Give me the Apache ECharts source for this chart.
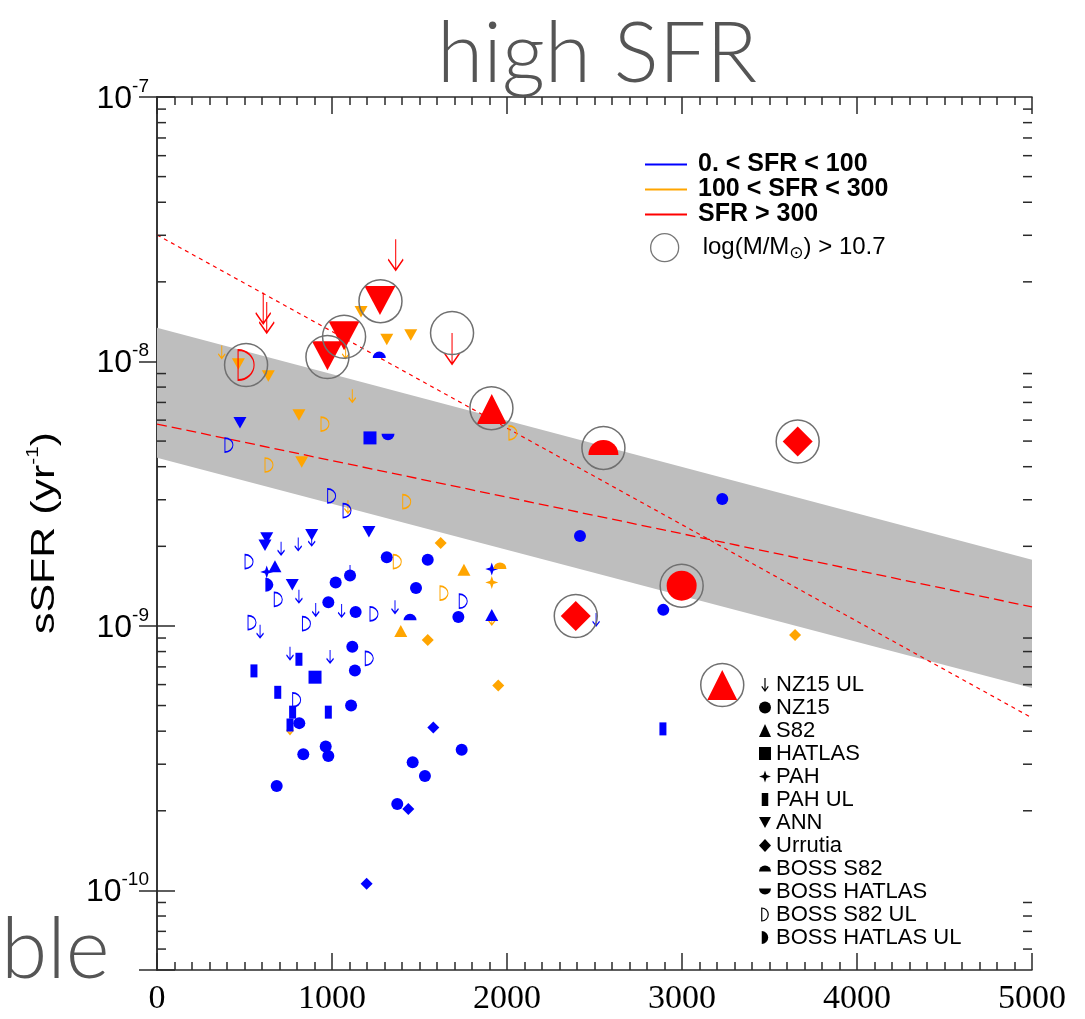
<!DOCTYPE html>
<html><head><meta charset="utf-8">
<script src="https://cdn.jsdelivr.net/npm/echarts@6/dist/echarts.min.js"></script>
<style>html,body{margin:0;padding:0;background:#fff}#c{width:1085px;height:1019px}</style>
</head><body><div id="c"></div><script>
// ---- data: [x, sSFR, class] ; class 0: SFR<100 (blue), 1: 100-300 (orange), 2: >300 (red)
const nz15UL = [[1364,2.90e-8,2],[607,1.82e-8,2],[627,1.68e-8,2],[1686,1.28e-8,2],
  [370,1.15e-8,1],[1078,1.15e-8,1],[1116,7.85e-9,1],[1091,2.99e-9,1],[1913,1.13e-9,1],[760,4.35e-10,1],
  [709,2.08e-9,0],[807,2.16e-9,0],[884,2.25e-9,0],[1103,1.70e-9,0],[811,1.37e-9,0],[907,1.22e-9,0],
  [1055,1.21e-9,0],[1360,1.25e-9,0],[589,1.01e-9,0],[2509,1.12e-9,0],[760,8.35e-10,0],[989,8.11e-10,0]];
const nz15 = [[2998,1.42e-9,2],
  [3230,3.02e-9,0],[2417,2.19e-9,0],[2893,1.15e-9,0],[1313,1.82e-9,0],[1547,1.78e-9,0],[1021,1.46e-9,0],
  [1103,1.55e-9,0],[1480,1.39e-9,0],[979,1.23e-9,0],[1135,1.13e-9,0],[1722,1.08e-9,0],[1116,8.35e-10,0],
  [1131,6.78e-10,0],[1109,5.00e-10,0],[813,4.29e-10,0],[964,3.50e-10,0],[979,3.22e-10,0],[836,3.27e-10,0],
  [1741,3.40e-10,0],[1461,3.05e-10,0],[1531,2.71e-10,0],[684,2.48e-10,0],[1373,2.12e-10,0]];
const s82 = [[1913,6.61e-9,2],[3230,5.98e-10,2],[1754,1.63e-9,1],[1393,9.57e-10,1],[674,1.68e-9,0],[1913,1.10e-9,0]];
const hatlas = [[1217,5.14e-9,0],[903,6.40e-10,0]];
const pah = [[627,1.60e-9,0],[1913,1.64e-9,0],[1913,1.46e-9,1]];
const pahUL = [[554,6.76e-10,0],[811,7.48e-10,0],[690,5.61e-10,0],[775,4.72e-10,0],[979,4.72e-10,0],[760,4.22e-10,0],[2891,4.08e-10,0]];
const ann = [[1274,1.70e-8,2],[1069,1.25e-8,2],[974,1.05e-8,2],
  [1166,1.54e-8,1],[1313,1.21e-8,1],[1450,1.26e-8,1],[465,9.78e-9,1],[636,8.82e-9,1],[811,6.28e-9,1],[827,4.17e-9,1],
  [474,5.86e-9,0],[627,2.15e-9,0],[617,2.02e-9,0],[884,2.21e-9,0],[1211,2.27e-9,0],[773,1.43e-9,0]];
const urrutia = [[2393,1.09e-9,2],[3661,4.98e-9,2],[1621,2.06e-9,1],[1547,8.85e-10,1],[1950,5.95e-10,1],[3646,9.25e-10,1],
  [1579,4.13e-10,0],[1436,2.03e-10,0],[1198,1.06e-10,0]];
const bossS82 = [[2551,4.73e-9,2],[1960,1.69e-9,1],[1270,1.06e-8,0],[1446,1.08e-9,0]];
const bossHatlas = [[1320,5.18e-9,0]];
const bossS82UL = [[509,9.70e-9,2],
  [960,5.80e-9,1],[640,4.06e-9,1],[2034,5.37e-9,1],[1427,2.95e-9,1],[1373,1.75e-9,1],[1640,1.33e-9,1],
  [411,4.83e-9,0],[998,3.10e-9,0],[1086,2.73e-9,0],[526,1.75e-9,0],[693,1.26e-9,0],[1750,1.24e-9,0],
  [1240,1.11e-9,0],[543,1.03e-9,0],[854,1.02e-9,0],[1213,7.54e-10,0],[798,5.25e-10,0]];
const bossHatlasUL = [[642,1.43e-9,0]];
const massive = [[509,9.70e-9],[974,1.04e-8],[1069,1.24e-8],[1277,1.69e-8],[1686,1.28e-8],[1911,6.66e-9],
  [2551,4.71e-9],[3661,4.98e-9],[2998,1.42e-9],[2393,1.09e-9],[3230,5.98e-10]];
const bandUpper = [[0,1.34e-8],[5000,1.78e-9]];
const bandLower = [[0,4.32e-9],[5000,5.83e-10]];
const fitLong = [[0,5.80e-9],[5000,1.18e-9]];
const fitShort = [[0,3.01e-8],[5000,4.49e-10]];
const sfrClasses = ['0. < SFR < 100','100 < SFR < 300','SFR > 300'];
const massLabel = 'log(M/M⊙) > 10.7';
const xTickValues = [0,1000,2000,3000,4000,5000];
const yMinorTicks = [6e-11,7e-11,8e-11,9e-11,2e-10,3e-10,4e-10,5e-10,6e-10,7e-10,8e-10,9e-10,
  2e-9,3e-9,4e-9,5e-9,6e-9,7e-9,8e-9,9e-9,2e-8,3e-8,4e-8,5e-8,6e-8,7e-8,8e-8,9e-8];

// ---- styles
const classColors = ['#0000ff','#ffa500','#ff0000'];
const AX = '#2a2a2a';
const P = {
  arrow: 'path://M5,0L5,20M0,13L5,20L10,13',
  star: 'path://M0,-10L2.5,-2.5L10,0L2.5,2.5L0,10L-2.5,2.5L-10,0L-2.5,-2.5Z',
  rectUL: 'path://M0,0H5V10H0Z',
  triDown: 'path://M0,0L10,0L5,9Z',
  domeUp: 'path://M0,10A10,10 0 0 1 20,10Z',
  domeDown: 'path://M0,0A10,10 0 0 0 20,0Z',
  dShape: 'path://M0,0L0,20A10,10 0 0 0 0,0Z'
};
const samples = [
  {name:'NZ15 UL', data:nz15UL, symbol:P.arrow, sizes:[[7,13],[7,13],[15,31]], outline:true, arrow:true},
  {name:'NZ15', data:nz15, symbol:'circle', sizes:[12,12,30]},
  {name:'S82', data:s82, symbol:'triangle', sizes:[[13,12],[13,12],[30,30]]},
  {name:'HATLAS', data:hatlas, symbol:'rect', sizes:[13,13,30]},
  {name:'PAH', data:pah, symbol:P.star, sizes:[13,13,30]},
  {name:'PAH UL', data:pahUL, symbol:P.rectUL, sizes:[[7,13],[7,13],[14,30]]},
  {name:'ANN', data:ann, symbol:P.triDown, sizes:[[13,11.5],[13,11.5],[31,29]]},
  {name:'Urrutia', data:urrutia, symbol:'diamond', sizes:[12,12,30]},
  {name:'BOSS S82', data:bossS82, symbol:P.domeUp, sizes:[[13,6.5],[13,6.5],[30,15]]},
  {name:'BOSS HATLAS', data:bossHatlas, symbol:P.domeDown, sizes:[[13,6.5],[13,6.5],[30,15]]},
  {name:'BOSS S82 UL', data:bossS82UL, symbol:P.dShape, sizes:[[8,14],[8,14],[16,30]], outline:true},
  {name:'BOSS HATLAS UL', data:bossHatlasUL, symbol:P.dShape, sizes:[[8,14],[8,14],[16,30]]}
];
function items(s) {
  return s.data.map(function (d) {
    const c = classColors[d[2]];
    const it = {value:[d[0], d[1]], symbolSize:s.sizes[d[2]]};
    it.itemStyle = s.outline ? {color:'transparent', borderColor:c, borderWidth:d[2] === 2 ? 1.5 : 1.3, opacity:1}
                             : {color:c, borderWidth:0, opacity:1};
    if (s.arrow) it.symbolOffset = [0, '50%'];
    return it;
  });
}

const series = [];
series.push({
  type:'custom', name:'band', silent:true, z:1, clip:false,
  data:[[bandUpper[0][0], bandUpper[0][1]]],
  renderItem:function (params, api) {
    const pts = bandUpper.map(function (p) { return api.coord(p); })
      .concat(bandLower.slice().reverse().map(function (p) { return api.coord(p); }));
    return {type:'polygon', shape:{points:pts}, style:{fill:'#bebebe'}};
  }
});
series.push({type:'line', name:'fitLong', data:fitLong, symbol:'none', silent:true, z:2,
  lineStyle:{color:'#ff0000', width:1.3, type:[10,5]}});
series.push({type:'line', name:'fitShort', data:fitShort, symbol:'none', silent:true, z:2,
  lineStyle:{color:'#ff0000', width:1.2, type:[4,4]}});
series.push({
  type:'custom', name:'minorY', silent:true, z:6, clip:false,
  data:yMinorTicks.map(function (v) { return [0, v]; }),
  renderItem:function (params, api) {
    const v = api.value(1);
    const a = api.coord([0, v]), b = api.coord([5000, v]);
    const st = {stroke:AX, lineWidth:1.5};
    return {type:'group', children:[
      {type:'line', shape:{x1:a[0], y1:a[1], x2:a[0] + 9, y2:a[1]}, style:st},
      {type:'line', shape:{x1:b[0] - 9, y1:b[1], x2:b[0], y2:b[1]}, style:st}
    ]};
  }
});
samples.forEach(function (s) {
  series.push({type:'scatter', name:s.name, symbol:s.symbol, data:items(s), z:3, itemStyle:{color:'#000', opacity:1}});
});
series.push({type:'scatter', name:massLabel, symbol:'circle', symbolSize:43, z:4, data:massive,
  itemStyle:{color:'transparent', borderColor:'#707070', borderWidth:1.5, opacity:1}});
sfrClasses.forEach(function (n, i) {
  series.push({type:'line', name:n, data:[], itemStyle:{color:classColors[i]}, lineStyle:{color:classColors[i]}});
});

const legendShape = {
  'NZ15 UL': {icon:P.arrow, outline:true}, 'NZ15': {icon:'circle'}, 'S82': {icon:'triangle'},
  'HATLAS': {icon:'rect'}, 'PAH': {icon:P.star}, 'PAH UL': {icon:P.rectUL}, 'ANN': {icon:P.triDown},
  'Urrutia': {icon:'diamond'}, 'BOSS S82': {icon:P.domeUp}, 'BOSS HATLAS': {icon:P.domeDown},
  'BOSS S82 UL': {icon:P.dShape, outline:true}, 'BOSS HATLAS UL': {icon:P.dShape}
};

const option = {
  animation:false,
  backgroundColor:'#fff',
  title:[
    {text:'high SFR', left:432, top:8, textStyle:{fontFamily:'Lato', fontWeight:300, fontSize:84, color:'#555'}},
    {text:'ble', left:-4, top:904, textStyle:{fontFamily:'Lato', fontWeight:300, fontSize:84, color:'#555'}}
  ],
  graphic:[{
    type:'text', x:45, y:533, rotation:Math.PI / 2, scaleX:1.3, silent:true,
    style:{text:'{a|sSFR (yr}{s|-1}{a|)}', align:'center', verticalAlign:'middle',
      rich:{
        a:{fontFamily:'Liberation Sans', fontSize:33, fill:'#000', lineHeight:38},
        s:{fontFamily:'Liberation Sans', fontSize:16, fill:'#000', verticalAlign:'top', lineHeight:16}
      }}
  }],
  grid:{left:157, top:97, right:53, bottom:49, outerBoundsMode:'none'},
  xAxis:[
    {type:'value', min:0, max:5000, interval:1000, position:'bottom',
      axisLine:{show:true, onZero:false, lineStyle:{color:AX, width:1.5}},
      axisTick:{show:true, inside:true, length:17, lineStyle:{color:AX, width:1.5}},
      minorTick:{show:true, splitNumber:10, length:8, lineStyle:{color:AX, width:1.5}},
      axisLabel:{margin:12, color:'#000', fontFamily:'Liberation Sans Narrow', fontSize:34,
        formatter:function (v) { return xTickValues.indexOf(v) >= 0 ? String(v) : ''; }},
      splitLine:{show:false}},
    {type:'value', min:0, max:5000, interval:1000, position:'top',
      axisLine:{show:true, onZero:false, lineStyle:{color:AX, width:1.5}},
      axisTick:{show:true, inside:true, length:17, lineStyle:{color:AX, width:1.5}},
      minorTick:{show:true, splitNumber:10, length:8, lineStyle:{color:AX, width:1.5}},
      axisLabel:{show:false}, splitLine:{show:false}}
  ],
  yAxis:[
    {type:'log', logBase:10, min:5e-11, max:1e-7, position:'left',
      axisLine:{show:true, lineStyle:{color:AX, width:1.5}},
      axisTick:{show:true, inside:true, length:18, lineStyle:{color:AX, width:1.5}},
      axisLabel:{margin:8, color:'#000',
        formatter:function (v) {
          const l = Math.log10(v), e = Math.round(l);
          if (Math.abs(l - e) > 1e-6) return '';
          return '{b|10}{s|' + e + '}';
        },
        rich:{
          b:{fontFamily:'Liberation Sans', fontSize:32, color:'#000', lineHeight:40, padding:[4,0,0,0]},
          s:{fontFamily:'Liberation Sans', fontSize:19, color:'#000', verticalAlign:'top', lineHeight:20}
        }},
      splitLine:{show:false}},
    {type:'log', logBase:10, min:5e-11, max:1e-7, position:'right',
      axisLine:{show:true, lineStyle:{color:AX, width:1.5}},
      axisTick:{show:true, inside:true, length:18, lineStyle:{color:AX, width:1.5}},
      axisLabel:{show:false}, splitLine:{show:false}}
  ],
  legend:[
    {data:sfrClasses, orient:'vertical', left:640, top:147, icon:'rect', itemWidth:42, itemHeight:2,
      itemGap:0, selectedMode:false,
      textStyle:{fontFamily:'Liberation Sans', fontWeight:'bold', fontSize:25, color:'#000', lineHeight:25, padding:[0,0,0,6]}},
    {data:[{name:massLabel, icon:'circle', itemStyle:{color:'transparent', borderColor:'#777', borderWidth:1.3}}],
      orient:'vertical', left:645, top:228, itemWidth:28, itemHeight:28, selectedMode:false,
      formatter:function () { return '{r|log(M/M}{s|⊙}{r|) > 10.7}'; },
      textStyle:{padding:[0,0,0,19], color:'#000', rich:{
        r:{fontFamily:'Liberation Sans', fontSize:24, color:'#000', lineHeight:28},
        s:{fontFamily:'DejaVu Sans', fontSize:17, color:'#000', verticalAlign:'bottom', lineHeight:20}
      }}},
    {data:samples.map(function (s) {
        const L = legendShape[s.name];
        return {name:s.name, icon:L.icon,
          itemStyle:L.outline ? {color:'transparent', borderColor:'#000', borderWidth:1.2} : {color:'#000', borderWidth:0}};
      }),
      orient:'vertical', left:754, top:668, itemWidth:12, itemHeight:13, itemGap:0, selectedMode:false,
      textStyle:{fontFamily:'Liberation Sans', fontSize:22, color:'#000', lineHeight:23}}
  ],
  series:series
};
const chart = echarts.init(document.getElementById('c'), null, {renderer:'canvas'});
chart.setOption(option);
</script></body></html>
